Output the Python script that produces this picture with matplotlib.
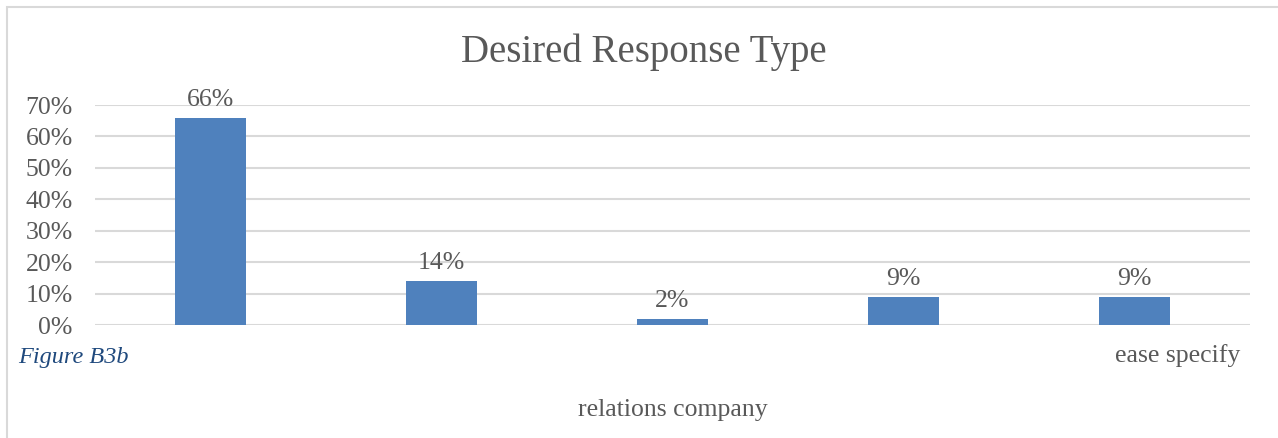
"""Desired Response Type bar chart."""

import matplotlib

matplotlib.use("Agg")
import matplotlib.pyplot as plt
from matplotlib.patches import Rectangle
from matplotlib.ticker import FuncFormatter

# data
categories = ["A", "B", "C", "D", "E"]
shares = [0.66, 0.14, 0.02, 0.09, 0.09]
value_labels = ["66%", "14%", "2%", "9%", "9%"]
y_ticks = [0.0, 0.1, 0.2, 0.3, 0.4, 0.5, 0.6, 0.7]

W, H = 1278, 438
TEXT = "#595959"
BAR = "#4f81bd"
GRID = "#d9d9d9"
FS = 18.5

plt.rcParams["font.family"] = ["Liberation Serif", "DejaVu Serif"]

fig = plt.figure(figsize=(W / 100, H / 100), dpi=100)

# outer chart frame (light grey, only left/top visible in the crop)
fig.patches.append(
    Rectangle((7 / W, -0.1), 1.2, 1 - 7 / H + 0.1, transform=fig.transFigure,
              fill=False, edgecolor="#d9d9d9", linewidth=1.5)
)

ax = fig.add_axes([95 / W, 1 - 325 / H, (1250 - 95) / W, (325 - 105) / H])
x = range(len(categories))
ax.bar(x, shares, width=0.31, color=BAR, zorder=3)
for xi, v, lab in zip(x, shares, value_labels):
    ax.annotate(lab, (xi, v), xytext=(0, 5), textcoords="offset points",
                ha="center", va="bottom", fontsize=FS, color=TEXT)

ax.set_xlim(-0.5, len(categories) - 0.5)
ax.set_ylim(0, 0.7)
ax.set_yticks(y_ticks)
ax.yaxis.set_major_formatter(FuncFormatter(lambda v, _: f"{v * 100:.0f}%"))
ax.tick_params(axis="y", length=0, labelsize=FS, labelcolor=TEXT, pad=16)
ax.set_xticks([])
ax.grid(axis="y", color=GRID, linewidth=1.5, zorder=0)
for s in ax.spines.values():
    s.set_visible(False)

fig.text(644 / W, 1 - 52 / H, "Desired Response Type", ha="center", va="center",
         fontsize=28, color=TEXT)

# visible fragments of the wrapped category labels, the rest is hidden under the caption box
fig.text(1240 / W, 1 - 356 / H, "ease specify", ha="right", va="center",
         fontsize=FS, color=TEXT)
fig.text(673 / W, 1 - 410 / H, "relations company", ha="center", va="center",
         fontsize=FS, color=TEXT)
fig.text(18 / W, 1 - 357 / H, "Figure B3b", ha="left", va="center",
         fontsize=17.5, style="italic", color="#1f497d")

fig.savefig("out.png", dpi=100)
